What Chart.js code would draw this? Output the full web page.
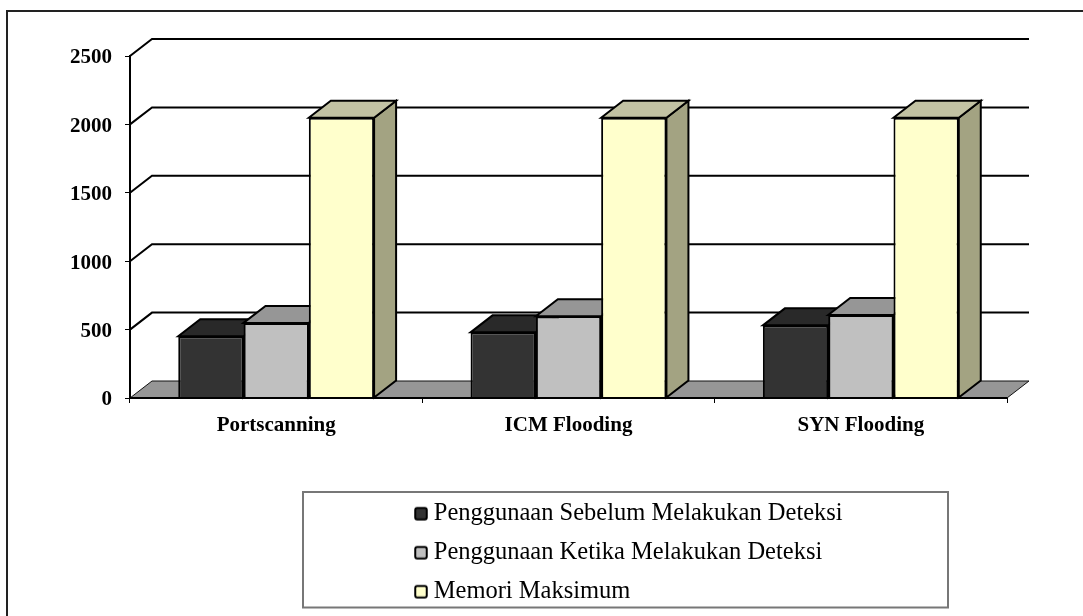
<!DOCTYPE html>
<html>
<head>
<meta charset="utf-8">
<style>html,body{margin:0;padding:0;background:#fff}canvas{display:block}</style>
<script src="https://cdn.jsdelivr.net/npm/chart.js@4"></script>
</head>
<body>
<canvas id="c" width="1083" height="616"></canvas>
<script>
const categories = ['Portscanning', 'ICM Flooding', 'SYN Flooding'];
const sebelum = [451, 480, 531];
const ketika = [549, 597, 607];
const maksimum = [2048, 2048, 2048];
const seriesNames = ['Penggunaan Sebelum Melakukan Deteksi', 'Penggunaan Ketika Melakukan Deteksi', 'Memori Maksimum'];
const frontColors = ['#333333', '#c0c0c0', '#ffffcc'];
const topColors = ['#292929', '#969696', '#c2c2a3'];
const sideColors = ['#1f1f1f', '#808080', '#a3a382'];

const DX = 22, DY = 17;
const SERIF = "'Liberation Serif', serif";

function poly(ctx, pts, fill, stroke, lw) {
  ctx.beginPath();
  pts.forEach((p, i) => i ? ctx.lineTo(p[0], p[1]) : ctx.moveTo(p[0], p[1]));
  ctx.closePath();
  if (fill) { ctx.fillStyle = fill; ctx.fill(); }
  if (stroke) { ctx.strokeStyle = stroke; ctx.lineWidth = lw; ctx.lineJoin = 'miter'; ctx.stroke(); }
}

const depthPlugin = {
  id: 'depth',
  afterLayout(chart) {
    const l = chart.legend;
    l.left = 406; l.right = 947; l.width = 541;
    l.top = 487; l.bottom = 660; l.height = 173;
    const ys = chart.scales.y;
    ys._labelItems = ys._computeLabelItems(chart.chartArea);
    ys._labelItems.forEach(it => { it.options.translation[1] += 2; });
  },
  beforeDraw(chart) {
    const ctx = chart.ctx;
    ctx.save();
    ctx.strokeStyle = '#222'; ctx.lineWidth = 2;
    ctx.beginPath(); ctx.moveTo(7, 616); ctx.lineTo(7, 11); ctx.lineTo(1083, 11); ctx.stroke();
    ctx.strokeStyle = '#777'; ctx.lineWidth = 2;
    ctx.fillStyle = '#fff';
    ctx.fillRect(303, 492, 645, 115.5);
    ctx.strokeRect(303, 492, 645, 115.5);
    ctx.restore();
  },
  beforeDatasetsDraw(chart) {
    const ctx = chart.ctx, a = chart.chartArea, ys = chart.scales.y;
    ctx.save();
    poly(ctx, [[a.left, a.bottom], [a.left + DX, a.bottom - DY], [a.right + DX, a.bottom - DY], [a.right, a.bottom]], '#969696', null);
    ys.ticks.forEach(t => {
      const y = ys.getPixelForValue(t.value);
      ctx.beginPath();
      ctx.moveTo(a.left, y);
      ctx.lineTo(a.left + DX, y - DY);
      ctx.lineTo(a.right + DX, y - DY);
      if (t.value === 0) ctx.lineTo(a.right, y);
      ctx.strokeStyle = t.value === 0 ? '#111' : '#000';
      ctx.lineWidth = t.value === 0 ? 1 : 2;
      ctx.stroke();
    });
    // depth faces of bars, left to right
    const n = categories.length;
    for (let i = 0; i < n; i++) {
      chart.data.datasets.forEach((ds, d) => {
        const b = chart.getDatasetMeta(d).data[i];
        const L = b.x - b.width / 2, R = b.x + b.width / 2, T = b.y, B = b.base;
        poly(ctx, [[R, T], [R + DX, T - DY], [R + DX, B - DY], [R, B]], sideColors[d], '#000', 2);
        poly(ctx, [[L, T], [L + DX, T - DY], [R + DX, T - DY], [R, T]], topColors[d], '#000', 2);
      });
    }
    ctx.restore();
  },
  afterDatasetsDraw(chart) {
    const ctx = chart.ctx;
    // redraw the baseline over the bar feet
    const a = chart.chartArea;
    ctx.save();
    ctx.strokeStyle = '#000'; ctx.lineWidth = 2;
    ctx.beginPath(); ctx.moveTo(a.left, a.bottom); ctx.lineTo(a.right, a.bottom); ctx.stroke();
    ctx.restore();
  }
};

function swatch(color) {
  const s = document.createElement('canvas');
  s.width = 16; s.height = 16;
  const g = s.getContext('2d');
  g.fillStyle = color;
  g.strokeStyle = '#000';
  g.lineWidth = 2;
  g.beginPath();
  g.roundRect(2.25, 2.25, 11.5, 11.5, 2);
  g.fill(); g.stroke();
  return s;
}

new Chart(document.getElementById('c'), {
  type: 'bar',
  plugins: [depthPlugin],
  data: {
    labels: categories,
    datasets: [
      { label: seriesNames[0], data: sebelum, backgroundColor: frontColors[0] },
      { label: seriesNames[1], data: ketika, backgroundColor: frontColors[1] },
      { label: seriesNames[2], data: maksimum, backgroundColor: frontColors[2] }
    ].map(d => Object.assign(d, { borderColor: '#000', borderWidth: 2, barPercentage: 1, categoryPercentage: 0.67 }))
  },
  options: {
    responsive: false,
    animation: false,
    layout: { padding: { top: 56, right: 76, bottom: 0, left: 0 } },
    plugins: {
      title: { display: false },
      tooltip: { enabled: false },
      legend: {
        position: 'chartArea',
        align: 'start',
        labels: {
          color: '#000',
          font: { family: SERIF, size: 24.5 },
          padding: 14.5,
          usePointStyle: true,
          pointStyleWidth: 1,
          generateLabels(chart) {
            return chart.data.datasets.map((d, i) => ({
              text: d.label, pointStyle: swatch(frontColors[i]), datasetIndex: i,
              fillStyle: frontColors[i], strokeStyle: '#000', lineWidth: 2
            }));
          }
        }
      }
    },
    scales: {
      x: {
        afterFit(s) { s.height = 218; },
        grid: { display: true, drawOnChartArea: false, color: '#000', tickLength: 5 },
        border: { display: true, color: '#000', width: 2 },
        ticks: { color: '#000', font: { family: SERIF, size: 21, weight: 'bold' }, padding: 10, maxRotation: 0 }
      },
      y: {
        min: 0, max: 2500,
        afterFit(s) { s.width = 130; },
        grid: { display: true, drawOnChartArea: false, color: '#000', tickLength: 5 },
        border: { display: true, color: '#000', width: 2 },
        ticks: { stepSize: 500, color: '#000', font: { family: SERIF, size: 21, weight: 'bold' }, padding: 13, callback: v => String(v) }
      }
    }
  }
});
</script>
</body>
</html>
